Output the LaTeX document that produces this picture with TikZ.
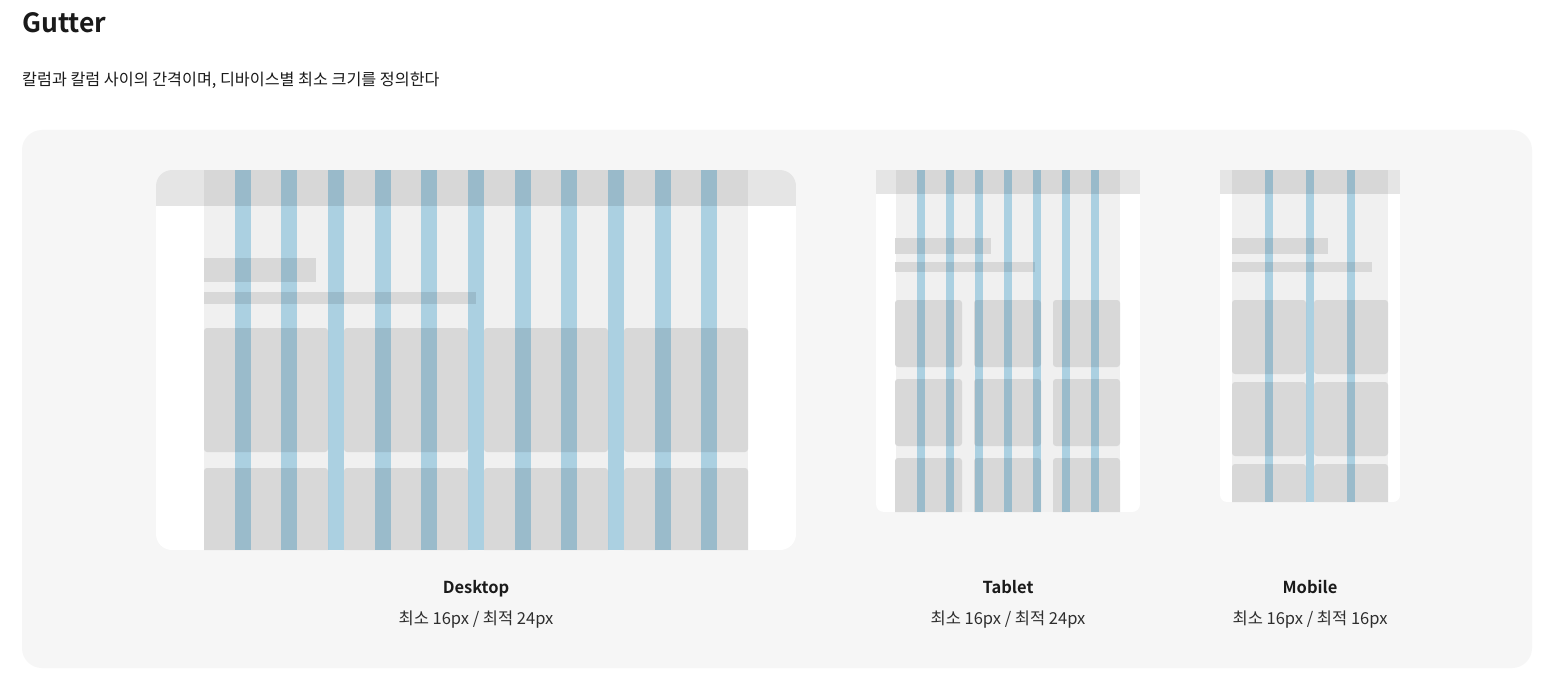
\documentclass[tikz,border=0pt]{standalone}
\usepackage{fontspec}
\setmainfont{Noto Sans CJK KR}[BoldFont={Noto Sans CJK KR Bold}]
\usetikzlibrary{calc}

\definecolor{panelgray}{HTML}{F6F6F6}
\definecolor{headgray}{HTML}{E5E5E5}
\definecolor{cardgray}{HTML}{D8D8D8}
\definecolor{gutterblue}{RGB}{182,221,240}
\definecolor{inkdark}{HTML}{1A1A1A}
\definecolor{inksoft}{HTML}{2E2E2E}

\begin{document}
\begin{tikzpicture}[x=1pt, y=-1pt,
    area/.style={fill=black, fill opacity=0.06},
    head/.style={fill=headgray},
    card/.style={fill=cardgray, rounded corners=3},
    bar/.style={fill=cardgray},
    gutter/.style={fill=gutterblue, blend mode=multiply},
    devname/.style={font=\fontsize{16.5}{20}\selectfont\bfseries, text=inkdark, inner sep=0, anchor=base},
    devsize/.style={font=\fontsize{16.5}{20}\selectfont, text=inksoft, inner sep=0}]

    %% Background
    \useasboundingbox (0,0) rectangle (1544,679);
    \fill[white] (0,0) rectangle (1544,679);
    \fill[panelgray, rounded corners=20] (22,130) rectangle (1532,668);

    % Title
    \node[anchor=west, inner sep=0, text=inkdark, font=\fontsize{26.5}{30}\selectfont\bfseries] (title) at (22,23) {Gutter};
    \node[anchor=west, inner sep=0, text=inkdark, font=\fontsize{16.2}{20}\selectfont] (subtitle) at (22,80) {칼럼과 칼럼 사이의 간격이며, 디바이스별 최소 크기를 정의한다};

    % Desktop
    \begin{scope}
    \clip[rounded corners=16] (156,170) rectangle (796,550);
    \fill[white] (156,170) rectangle (796,550);
    \fill[head] (156,170) rectangle (796,206);
    \fill[area] (204,170) rectangle (748,550);
    \fill[bar] (204,258) rectangle (316,282);
    \fill[bar] (204,292) rectangle (476,304);
    \foreach \c in {0,...,3}
    \foreach \r in {0,1}
    {
    \fill[card] ({204+\c*140},{328+\r*140}) rectangle ++(124,124);
    }
    \foreach \i in {0,...,10}
    {
    \fill[gutter] ({234.67+\i*46.67},170) rectangle ++(16,380);
    }
    \end{scope}

    % Tablet
    \begin{scope}
    \clip[rounded corners=8] (876,150) rectangle (1140,512);
    \fill[white] (876,170) rectangle (1140,512);
    \fill[head] (876,170) rectangle (1140,194);
    \fill[area] (896,170) rectangle (1120,512);
    \fill[bar] (895,238) rectangle (991,254);
    \fill[bar] (895,262) rectangle (1035,272);
    \foreach \c in {0,1,2}
    \foreach \r in {0,1,2}
    {
    \fill[card] ({895+\c*79},{300+\r*79}) rectangle ++(67,67);
    }
    \foreach \i in {0,...,6}
    {
    \fill[gutter] ({917+\i*29},170) rectangle ++(8,342);
    }
    \end{scope}

    % Mobile
    \begin{scope}
    \clip[rounded corners=7] (1220,150) rectangle (1400,502);
    \fill[white] (1220,170) rectangle (1400,502);
    \fill[head] (1220,170) rectangle (1400,194);
    \fill[area] (1232,170) rectangle (1388,502);
    \fill[bar] (1232,238) rectangle (1328,254);
    \fill[bar] (1232,262) rectangle (1372,272);
    \foreach \c in {0,1}
    \foreach \r in {0,1,2}
    {
    \fill[card] ({1232+\c*82},{300+\r*82}) rectangle ++(74,74);
    }
    \foreach \i in {0,1,2}
    {
    \fill[gutter] ({1265+\i*41},170) rectangle ++(8,332);
    }
    \end{scope}

    % Labels
    \node[devname] (desktop) at (476,593) {Desktop};
    \node[devsize] (desktopsize) at (476,620) {최소 16px / 최적 24px};
    \node[devname] (tablet) at (1008,593) {Tablet};
    \node[devsize] (tabletsize) at (1008,620) {최소 16px / 최적 24px};
    \node[devname] (mobile) at (1310,593) {Mobile};
    \node[devsize] (mobilesize) at (1310,620) {최소 16px / 최적 16px};

\end{tikzpicture}
\end{document}
